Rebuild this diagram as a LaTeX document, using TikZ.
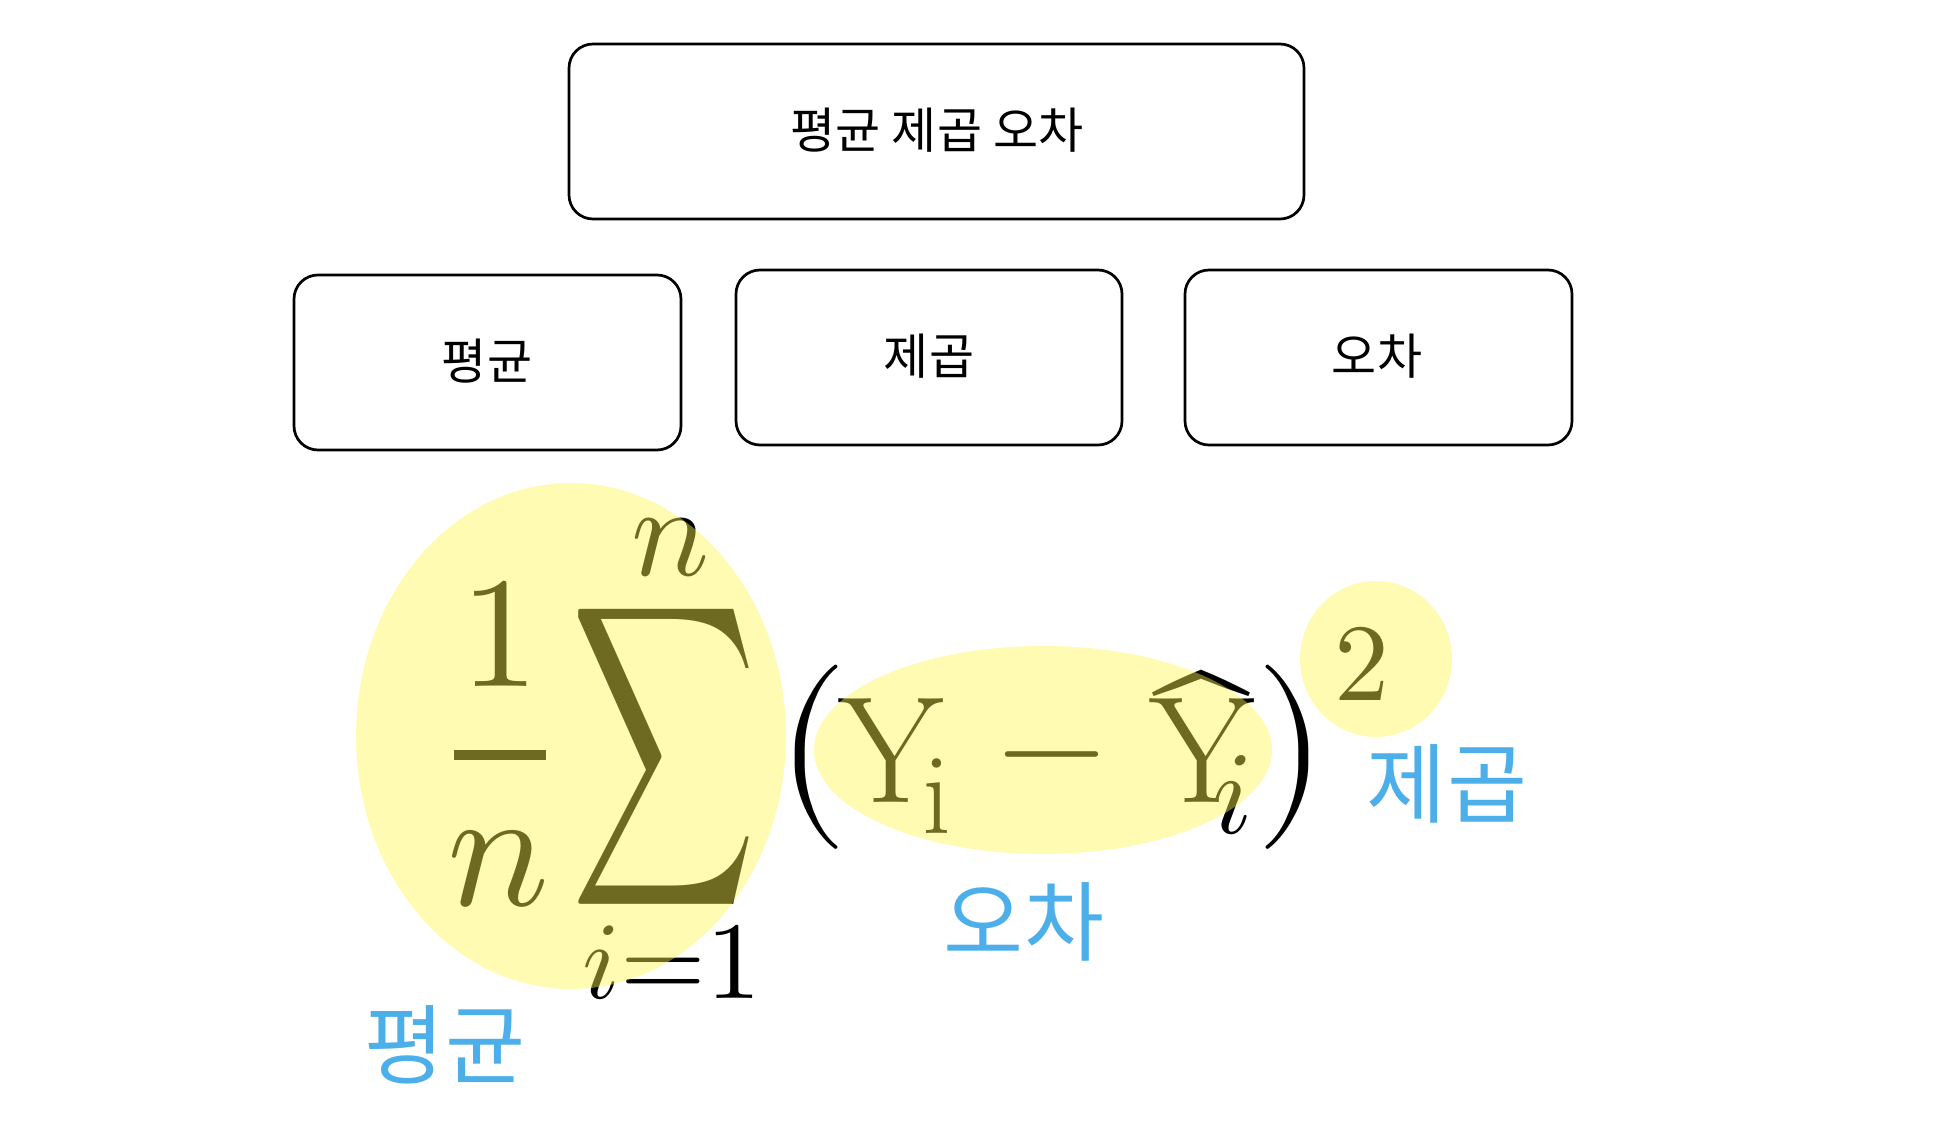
\documentclass[tikz,border=0pt]{standalone}
\usepackage{fontspec}
\usepackage{unicode-math}
\setmathfont{Latin Modern Math}
\usepackage{graphicx}
\newfontfamily\kr{Noto Sans CJK KR}
\newcommand\fsz[1]{\fontsize{#1}{#1}\selectfont}
\definecolor{hl}{RGB}{255,246,77}
\definecolor{lblue}{RGB}{77,175,234}
\tikzset{
  box/.style={draw=black, line width=2.7pt, rounded corners=24pt, minimum height=175pt, inner sep=0pt},
  boxtext/.style={font=\kr\fsz{49}, inner sep=0pt},
  bluelabel/.style={font=\kr\fsz{87}, text=lblue, inner sep=0pt},
  mpart/.style={inner sep=0pt, outer sep=0pt},
  hilite/.style={fill=hl, fill opacity=0.43}
}
\begin{document}
\begin{tikzpicture}[x=1pt,y=-1pt]
\useasboundingbox (0,0) rectangle (1944,1134);
% boxes
\node[box, minimum width=735pt] (top) at (936.5,131.5) {};
\node[boxtext] (toptext) at (937,130) {평균 제곱 오차};
\node[box, minimum width=387pt] (bmean) at (487.5,362.5) {};
\node[boxtext] (tmean) at (487,361) {평균};
\node[box, minimum width=386pt] (bsq) at (929,357.5) {};
\node[boxtext] (tsq) at (929,356) {제곱};
\node[box, minimum width=387pt] (berr) at (1378.5,357.5) {};
\node[boxtext] (terr) at (1377,356) {오차};
% formula
\node[mpart, anchor=base] (one) at (500,686) {\fsz{158}$1$};
\fill (454,750) rectangle (546,760);
\node[mpart, anchor=base] (nden) at (498,905) {\fsz{170}$n$};
\node[mpart] (sigma) at (664,757) {\resizebox*{185pt}{295pt}{$\displaystyle\sum$}};
\node[mpart, anchor=base] (ntop) at (670,575) {\fsz{130}$n$};
\node[mpart, anchor=base] (ieq) at (672,998) {\fsz{110}$i{=}1$};
\node[mpart] (lp) at (812,757) {\fsz{185}$($};
\node[mpart, anchor=base west] (y) at (838,802) {\fsz{152}$\mathrm{Y}$};
\node[mpart, anchor=base] (ysub) at (937,833) {\fsz{116}$\mathrm{i}$};
\node[mpart] (minus) at (1052,771) {\fsz{140}$-$};
\node[mpart, anchor=base west] (yhat) at (1149,802) {\fsz{152}$\mathrm{Y}$};
\node[mpart, anchor=base west] (hat) at (1149,819) {\fsz{152}$\widehat{\phantom{\mathrm{Y}}}$};
\node[mpart, anchor=base] (yhatsub) at (1233,833) {\fsz{118}$i$};
\node[mpart] (rp) at (1291,757) {\fsz{185}$)$};
\node[mpart, anchor=base] (two) at (1362,700) {\fsz{110}$2$};
% highlights
\fill[hilite] (571,736) ellipse [x radius=215pt, y radius=253pt];
\fill[hilite] (1043,750) ellipse [x radius=229pt, y radius=104pt];
\fill[hilite] (1376,659) ellipse [x radius=76pt, y radius=78pt];
% blue labels
\node[bluelabel] (lmean) at (445,1045) {평균};
\node[bluelabel] (lerr) at (1024,922) {오차};
\node[bluelabel] (lsq) at (1447,784) {제곱};
\end{tikzpicture}
\end{document}
